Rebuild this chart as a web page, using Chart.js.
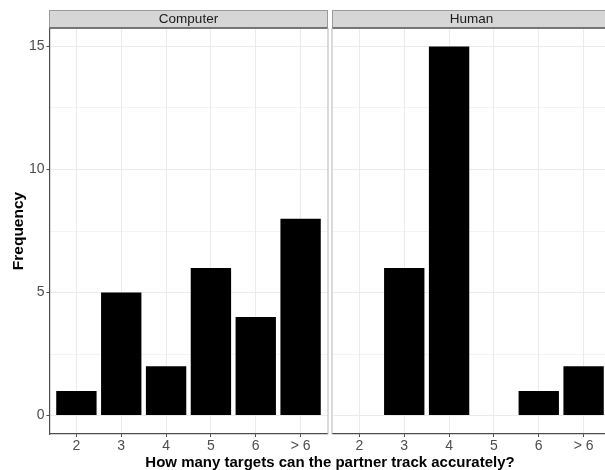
<!DOCTYPE html>
<html>
<head>
<meta charset="utf-8">
<script src="https://cdn.jsdelivr.net/npm/chart.js@4.4.1/dist/chart.umd.min.js"></script>
<style>
  html, body { margin: 0; padding: 0; background: #fff; }
  #wrap { position: relative; width: 605px; height: 470px; overflow: hidden; font-family: "Liberation Sans", Arial, sans-serif; }
  canvas { position: absolute; top: 0; }
  #cvA { left: 0; }
  #cvB { left: 330px; }
  #xtitle { position: absolute; left: 49px; width: 562px; top: 453px; text-align: center; font-weight: bold; font-size: 15px; color: #000; white-space: nowrap; }
</style>
</head>
<body>
<div id="wrap">
  <canvas id="cvA" width="330" height="470"></canvas>
  <canvas id="cvB" width="281" height="470"></canvas>
  <div id="xtitle">How many targets can the partner track accurately?</div>
</div>
<script>
// Answer categories and counts per partner type
const categories = ['2', '3', '4', '5', '6', '> 6'];
const computerCounts = [1, 5, 2, 6, 4, 8];
const humanCounts = [0, 6, 15, 0, 1, 2];
const panelNames = ['Computer', 'Human'];
const yTicks = [0, 5, 10, 15];
const yMinorTicks = [2.5, 7.5, 12.5];
const yLimits = [-0.75, 15.75];

Chart.defaults.font.family = '"Liberation Sans", Arial, sans-serif';
Chart.defaults.animation = false;

const GRID = '#EBEBEB';
const AXIS = '#4D4D4D';
const TICK_TXT = '#4D4D4D';

// Facet strip with the panel name, drawn over the top padding
const stripPlugin = {
  id: 'strip',
  afterDraw(chart, args, opts) {
    const { ctx, chartArea } = chart;
    const left = chartArea.left, right = chartArea.right;
    const top = 10.5, bottom = chartArea.top;
    ctx.save();
    ctx.fillStyle = '#D6D6D6';
    ctx.fillRect(left, top, right - left, bottom - top);
    ctx.strokeStyle = '#9A9A9A';
    ctx.lineWidth = 1;
    ctx.strokeRect(left, top, right - left, bottom - top);
    ctx.strokeStyle = '#5E5E5E';
    ctx.lineWidth = 1.5;
    ctx.beginPath();
    ctx.moveTo(left, bottom);
    ctx.lineTo(right, bottom);
    ctx.stroke();
    ctx.fillStyle = '#1A1A1A';
    ctx.font = '13.5px "Liberation Sans", Arial, sans-serif';
    ctx.textAlign = 'center';
    ctx.textBaseline = 'middle';
    ctx.fillText(opts.label, (left + right) / 2, (top + bottom) / 2 + 0.5);
    // light panel border on the inner sides
    ctx.strokeStyle = '#B5B5B5';
    ctx.lineWidth = 1;
    ctx.beginPath();
    if (opts.borderRight) {
      ctx.moveTo(chartArea.right + 0.5, bottom);
      ctx.lineTo(chartArea.right + 0.5, chartArea.bottom);
    }
    if (opts.borderLeft) {
      ctx.moveTo(chartArea.left - 0.5, bottom);
      ctx.lineTo(chartArea.left - 0.5, chartArea.bottom);
    }
    ctx.stroke();
    ctx.restore();
  }
};

function makePanel(canvasId, counts, label, showYAxis) {
  const data = counts.map((v, i) => ({ x: i + 1, y: v }));
  return new Chart(document.getElementById(canvasId), {
    type: 'bar',
    data: {
      datasets: [{
        data: data,
        backgroundColor: '#000000',
        borderWidth: 0,
        barPercentage: 0.9,
        categoryPercentage: 1.0
      }]
    },
    options: {
      responsive: false,
      animation: false,
      layout: { padding: { top: 28, right: showYAxis ? 2.5 : 0.5, left: 0, bottom: 0 } },
      plugins: {
        legend: { display: false },
        tooltip: { enabled: false },
        strip: { label: label, borderRight: showYAxis, borderLeft: !showYAxis }
      },
      scales: {
        x: {
          type: 'linear',
          min: 0.4,
          max: 6.6,
          offset: false,
          afterBuildTicks(scale) { scale.ticks = categories.map((c, i) => ({ value: i + 1 })); },
          afterFit(scale) { scale.height = 36; },
          ticks: {
            autoSkip: false,
            maxRotation: 0,
            padding: 1,
            color: TICK_TXT,
            font: { size: 14 },
            callback: (v) => categories[Math.round(v) - 1]
          },
          grid: { color: GRID, lineWidth: 1, offset: false, tickLength: 3, tickColor: AXIS },
          border: { color: AXIS, width: 1.2 }
        },
        y: {
          type: 'linear',
          min: yLimits[0],
          max: yLimits[1],
          afterBuildTicks(scale) {
            scale.ticks = yTicks.concat(yMinorTicks).sort((a, b) => a - b).map(v => ({ value: v }));
          },
          afterFit(scale) { scale.width = showYAxis ? 49.5 : 2.5; },
          title: showYAxis ? {
            display: true,
            text: 'Frequency',
            color: '#000',
            font: { size: 15.5, weight: 'bold' },
            padding: { top: 9, bottom: 0 }
          } : { display: false },
          ticks: {
            display: showYAxis,
            padding: 2,
            color: TICK_TXT,
            font: { size: 14 },
            callback: (v) => (yTicks.includes(v) ? String(v) : '')
          },
          grid: {
            color: GRID,
            drawTicks: showYAxis,
            tickLength: 3,
            tickColor: (ctx) => (ctx.tick && yTicks.includes(ctx.tick.value) ? AXIS : 'rgba(0,0,0,0)'),
            lineWidth: (ctx) => (ctx.tick && yTicks.includes(ctx.tick.value) ? 1 : 0.6)
          },
          border: showYAxis ? { color: AXIS, width: 1.2 } : { display: false }
        }
      }
    },
    plugins: [stripPlugin]
  });
}

makePanel('cvA', computerCounts, panelNames[0], true);
makePanel('cvB', humanCounts, panelNames[1], false);
</script>
</body>
</html>
